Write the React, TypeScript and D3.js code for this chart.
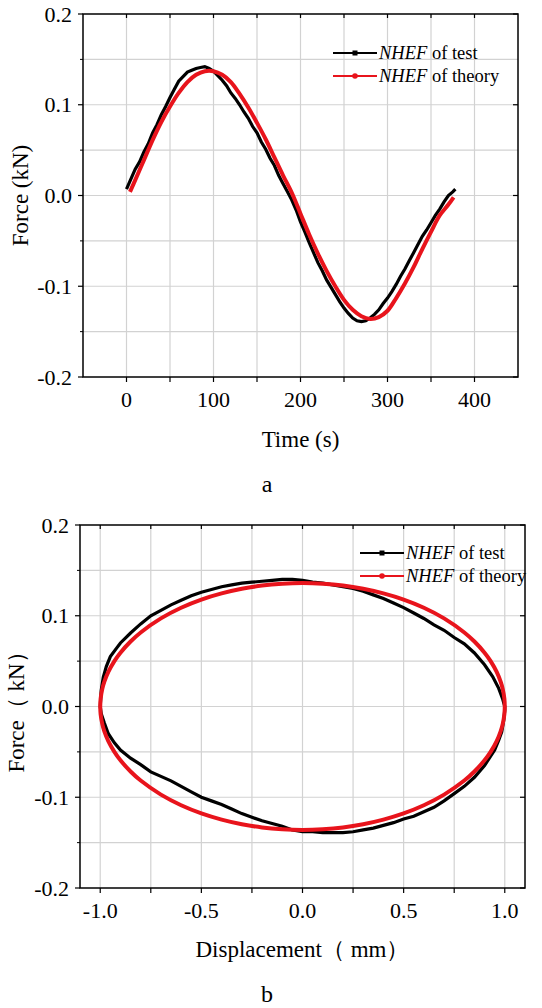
import React from "react";
import * as d3 from "d3";

// ---------- Panel a: Force vs Time ----------
const timeTicks = [0, 100, 200, 300, 400];
const timeGrid = [0, 50, 100, 150, 200, 250, 300, 350, 400];
const forceTicks = [-0.2, -0.1, 0.0, 0.1, 0.2];
const forceGrid = [-0.15, -0.1, -0.05, 0, 0.05, 0.1, 0.15];

const testTime = [0, 5, 10, 15, 20, 25, 30, 35, 40, 45, 50, 55, 60, 65, 70, 75, 80, 85, 90, 95, 100, 105, 110, 115, 120, 125, 130, 135, 140, 145, 150, 155, 160, 165, 170, 175, 180, 185, 190, 195, 200, 205, 210, 215, 220, 225, 230, 235, 240, 245, 250, 255, 260, 265, 270, 275, 280, 285, 290, 295, 300, 305, 310, 315, 320, 325, 330, 335, 340, 345, 350, 355, 360, 365, 370, 375, 378];
const testForce = [0.007, 0.018, 0.029, 0.037, 0.048, 0.057, 0.069, 0.078, 0.089, 0.098, 0.108, 0.117, 0.126, 0.131, 0.136, 0.138, 0.140, 0.141, 0.142, 0.140, 0.137, 0.132, 0.127, 0.121, 0.113, 0.107, 0.100, 0.092, 0.085, 0.076, 0.069, 0.059, 0.051, 0.041, 0.033, 0.022, 0.013, 0.004, -0.005, -0.016, -0.029, -0.040, -0.052, -0.063, -0.074, -0.083, -0.093, -0.101, -0.109, -0.117, -0.124, -0.130, -0.135, -0.138, -0.139, -0.138, -0.135, -0.131, -0.126, -0.119, -0.113, -0.106, -0.098, -0.089, -0.081, -0.072, -0.063, -0.054, -0.045, -0.038, -0.030, -0.022, -0.015, -0.007, 0.0, 0.004, 0.007];

const theoryTime = [4, 10, 20, 30, 40, 50, 60, 70, 80, 90, 100, 110, 120, 130, 140, 150, 160, 170, 180, 190, 200, 210, 220, 230, 240, 250, 260, 270, 280, 290, 300, 310, 320, 330, 340, 350, 360, 370, 376];
const theoryForce = [0.004, 0.017, 0.039, 0.061, 0.081, 0.098, 0.113, 0.125, 0.133, 0.137, 0.137, 0.133, 0.125, 0.112, 0.097, 0.080, 0.062, 0.042, 0.022, 0.003, -0.020, -0.043, -0.064, -0.083, -0.100, -0.115, -0.126, -0.133, -0.136, -0.134, -0.127, -0.113, -0.097, -0.079, -0.059, -0.040, -0.022, -0.010, -0.002];

// ---------- Panel b: Force vs Displacement ----------
const dispTicks = [-1.0, -0.5, 0.0, 0.5, 1.0];
const dispGrid = [-1.0, -0.75, -0.5, -0.25, 0, 0.25, 0.5, 0.75, 1.0];

const loopTestDisp = [-1.0, -0.995, -0.985, -0.97, -0.95, -0.92, -0.9, -0.85, -0.8, -0.75, -0.7, -0.65, -0.6, -0.55, -0.5, -0.45, -0.4, -0.35, -0.3, -0.25, -0.2, -0.15, -0.1, -0.05, 0.0, 0.05, 0.1, 0.15, 0.2, 0.25, 0.3, 0.35, 0.4, 0.45, 0.5, 0.55, 0.6, 0.65, 0.7, 0.75, 0.8, 0.85, 0.9, 0.94, 0.97, 0.99, 1.0,
  1.0, 0.995, 0.985, 0.97, 0.95, 0.9, 0.85, 0.8, 0.75, 0.7, 0.65, 0.6, 0.55, 0.5, 0.45, 0.4, 0.35, 0.3, 0.25, 0.2, 0.15, 0.1, 0.05, 0.0, -0.05, -0.1, -0.15, -0.2, -0.25, -0.3, -0.35, -0.4, -0.45, -0.5, -0.55, -0.6, -0.65, -0.7, -0.75, -0.8, -0.85, -0.9, -0.93, -0.96, -0.98, -0.995, -1.0];
const loopTestForce = [0.0, 0.018, 0.032, 0.044, 0.055, 0.064, 0.070, 0.081, 0.091, 0.100, 0.106, 0.112, 0.117, 0.122, 0.126, 0.129, 0.132, 0.134, 0.136, 0.137, 0.138, 0.139, 0.140, 0.140, 0.139, 0.137, 0.136, 0.134, 0.132, 0.130, 0.127, 0.123, 0.119, 0.114, 0.109, 0.103, 0.097, 0.090, 0.084, 0.076, 0.069, 0.059, 0.046, 0.033, 0.020, 0.008, 0.0,
  -0.004, -0.015, -0.028, -0.037, -0.048, -0.065, -0.078, -0.088, -0.096, -0.104, -0.111, -0.116, -0.121, -0.124, -0.128, -0.131, -0.134, -0.136, -0.138, -0.139, -0.139, -0.139, -0.138, -0.138, -0.136, -0.132, -0.129, -0.126, -0.122, -0.118, -0.113, -0.108, -0.104, -0.100, -0.094, -0.088, -0.082, -0.077, -0.072, -0.064, -0.057, -0.048, -0.040, -0.030, -0.018, -0.008, 0.0];

const loopTheoryDisp = [-1, -0.998, -0.99, -0.98, -0.96, -0.93, -0.9, -0.85, -0.8, -0.7, -0.6, -0.5, -0.4, -0.3, -0.2, -0.1, 0, 0.1, 0.2, 0.3, 0.4, 0.5, 0.6, 0.7, 0.8, 0.85, 0.9, 0.93, 0.96, 0.98, 0.99, 0.998, 1,
  0.998, 0.99, 0.98, 0.96, 0.93, 0.9, 0.85, 0.8, 0.7, 0.6, 0.5, 0.4, 0.3, 0.2, 0.1, 0, -0.1, -0.2, -0.3, -0.4, -0.5, -0.6, -0.7, -0.8, -0.85, -0.9, -0.93, -0.96, -0.98, -0.99, -0.998, -1];
const loopTheoryForce = [0, 0.0086, 0.0192, 0.0271, 0.0381, 0.050, 0.0593, 0.0716, 0.0816, 0.0971, 0.1088, 0.1178, 0.1246, 0.1297, 0.1333, 0.1353, 0.136, 0.1353, 0.1333, 0.1297, 0.1246, 0.1178, 0.1088, 0.0971, 0.0816, 0.0716, 0.0593, 0.050, 0.0381, 0.0271, 0.0192, 0.0086, 0,
  -0.0086, -0.0192, -0.0271, -0.0381, -0.050, -0.0593, -0.0716, -0.0816, -0.0971, -0.1088, -0.1178, -0.1246, -0.1297, -0.1333, -0.1353, -0.136, -0.1353, -0.1333, -0.1297, -0.1246, -0.1178, -0.1088, -0.0971, -0.0816, -0.0716, -0.0593, -0.050, -0.0381, -0.0271, -0.0192, -0.0086, 0];

const seriesNames = ["of test", "of theory"];

const RED = "#e8141c";
const GRID = "#d2d2d2";

type PanelProps = {
  x: d3.ScaleLinear<number, number>;
  y: d3.ScaleLinear<number, number>;
  xTicks: number[];
  xGrid: number[];
  xFmt: (v: number) => string;
  yTicks: number[];
  yGrid: number[];
  testX: number[];
  testY: number[];
  theoX: number[];
  theoY: number[];
  xTitle: string;
  yTitle: string;
  xTitleY: number;
  yTitleX: number;
  tickLabelY: number;
  yLabelX: number;
  legendX: number;
  legendY: number;
  caption: string;
  captionY: number;
};

function Panel(p: PanelProps) {
  const [x0, x1] = p.x.range();
  const [yb, yt] = p.y.range();
  const lineGen = d3
    .line<[number, number]>()
    .x((d) => p.x(d[0]))
    .y((d) => p.y(d[1]));
  const theoGen = d3
    .line<[number, number]>()
    .x((d) => p.x(d[0]))
    .y((d) => p.y(d[1]))
    .curve(d3.curveCatmullRom.alpha(0.5));
  const testPts = p.testX.map((v, i) => [v, p.testY[i]] as [number, number]);
  const theoPts = p.theoX.map((v, i) => [v, p.theoY[i]] as [number, number]);
  const cx = (x0 + x1) / 2;
  const cy = (yb + yt) / 2;
  return (
    <g>
      {p.xGrid.map((v) => (
        <line key={"gx" + v} x1={p.x(v)} x2={p.x(v)} y1={yt} y2={yb} stroke={GRID} strokeWidth={1.2} />
      ))}
      {p.yGrid.map((v) => (
        <line key={"gy" + v} x1={x0} x2={x1} y1={p.y(v)} y2={p.y(v)} stroke={GRID} strokeWidth={1.2} />
      ))}
      <path d={lineGen(testPts) || ""} fill="none" stroke="#000" strokeWidth={3.2} strokeLinejoin="miter" />
      <path d={theoGen(theoPts) || ""} fill="none" stroke={RED} strokeWidth={4} strokeLinejoin="round" />
      <rect x={x0} y={yt} width={x1 - x0} height={yb - yt} fill="none" stroke="#000" strokeWidth={1.5} />
      {p.xGrid.map((v) => (
        <g key={"tx" + v}>
          <line x1={p.x(v)} x2={p.x(v)} y1={yb} y2={yb + 5} stroke="#000" strokeWidth={1.2} />
          <line x1={p.x(v)} x2={p.x(v)} y1={yt} y2={yt + 4} stroke="#000" strokeWidth={1.2} />
        </g>
      ))}
      {p.xTicks.map((v) => (
        <text key={"lx" + v} className="tk" x={p.x(v)} y={p.tickLabelY} textAnchor="middle">
          {p.xFmt(v)}
        </text>
      ))}
      {p.yTicks.map((v) => (
        <g key={"ty" + v}>
          <line x1={x0 - 5} x2={x0} y1={p.y(v)} y2={p.y(v)} stroke="#000" strokeWidth={1.2} />
          <line x1={x1 - 5} x2={x1} y1={p.y(v)} y2={p.y(v)} stroke="#000" strokeWidth={1.2} />
          <text className="tk" x={p.yLabelX} y={p.y(v) + 7.5} textAnchor="end">
            {v.toFixed(1)}
          </text>
        </g>
      ))}
      {p.yGrid.filter((v) => !p.yTicks.includes(v)).map((v) => (
        <line key={"my" + v} x1={x0 - 3} x2={x0} y1={p.y(v)} y2={p.y(v)} stroke="#000" strokeWidth={1} />
      ))}
      <text className="ti" x={cx} y={p.xTitleY} textAnchor="middle">
        {p.xTitle}
      </text>
      <text className="ti" transform={`translate(${p.yTitleX},${cy}) rotate(-90)`} textAnchor="middle">
        {p.yTitle}
      </text>
      {seriesNames.map((name, i) => {
        const ly = p.legendY + i * 23;
        const col = i === 0 ? "#000" : RED;
        const mx = p.legendX + 22;
        return (
          <g key={name}>
            <line x1={p.legendX} x2={p.legendX + 44} y1={ly} y2={ly} stroke={col} strokeWidth={2.2} />
            {i === 0 ? (
              <rect x={mx - 2.5} y={ly - 2.5} width={5} height={5} fill={col} />
            ) : (
              <circle cx={mx} cy={ly} r={2.8} fill={col} />
            )}
            <text className="lg" x={p.legendX + 46} y={ly + 6}>
              <tspan className="it">NHEF</tspan>
              <tspan> {name}</tspan>
            </text>
          </g>
        );
      })}
      <text className="cap" x={267} y={p.captionY} textAnchor="middle">
        {p.caption}
      </text>
    </g>
  );
}

const css = `
  svg text { font-family: "Times New Roman", "Liberation Serif", Tinos, serif; fill: #000; font-style: normal; font-weight: 400; }
  svg text.tk { font-size: 22px; }
  svg text.ti { font-size: 23px; }
  svg text.lg { font-size: 18.5px; }
  svg text.cap { font-size: 24px; }
  svg tspan.it { font-style: italic; }
`;

export default function App() {
  const xA = d3.scaleLinear().domain([-50, 450]).range([83, 518]);
  const yA = d3.scaleLinear().domain([-0.2, 0.2]).range([377, 14]);
  const xB = d3.scaleLinear().domain([-1.1, 1.1]).range([80, 525]);
  const yB = d3.scaleLinear().domain([-0.2, 0.2]).range([888, 525]);
  return (
    <svg
      width={542}
      height={1008}
      viewBox="0 0 542 1008"
      style={{ position: "absolute", left: 0, top: 0, background: "#fff" }}
    >
      <style>{css}</style>
      <rect width={542} height={1008} fill="#fff" />
      <Panel
        x={xA}
        y={yA}
        xTicks={timeTicks}
        xGrid={timeGrid}
        xFmt={(v) => String(v)}
        yTicks={forceTicks}
        yGrid={forceGrid}
        testX={testTime}
        testY={testForce}
        theoX={theoryTime}
        theoY={theoryForce}
        xTitle="Time (s)"
        yTitle="Force (kN)"
        xTitleY={447}
        yTitleX={28}
        tickLabelY={407}
        yLabelX={72}
        legendX={333}
        legendY={53}
        caption="a"
        captionY={492}
      />
      <Panel
        x={xB}
        y={yB}
        xTicks={dispTicks}
        xGrid={dispGrid}
        xFmt={(v) => v.toFixed(1)}
        yTicks={forceTicks}
        yGrid={forceGrid}
        testX={loopTestDisp}
        testY={loopTestForce}
        theoX={loopTheoryDisp}
        theoY={loopTheoryForce}
        xTitle="Displacement（ mm）"
        yTitle="Force（ kN）"
        xTitleY={957}
        yTitleX={24}
        tickLabelY={918}
        yLabelX={69}
        legendX={360}
        legendY={553}
        caption="b"
        captionY={1002}
      />
    </svg>
  );
}
